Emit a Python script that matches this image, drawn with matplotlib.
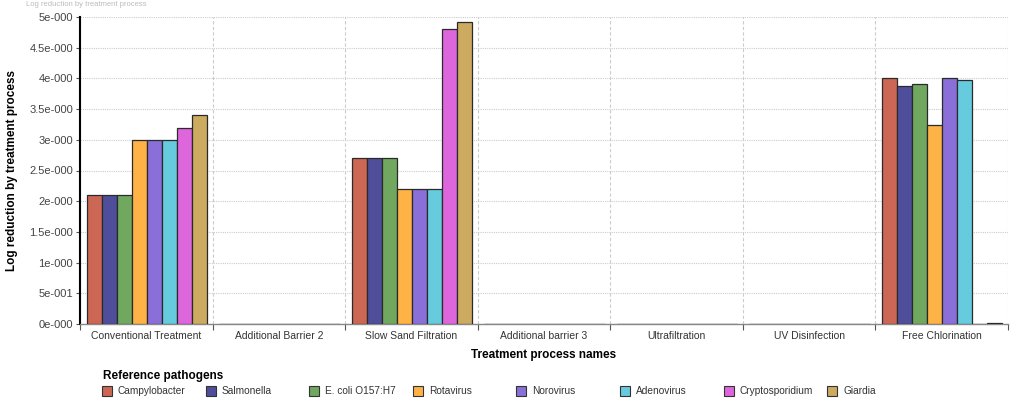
import numpy as np
import matplotlib
matplotlib.use('Agg')
import matplotlib.pyplot as plt
from matplotlib.patches import Rectangle

# data
processes = ['Conventional Treatment', 'Additional Barrier 2', 'Slow Sand Filtration',
             'Additional barrier 3', 'Ultrafiltration', 'UV Disinfection', 'Free Chlorination']
pathogens = ['Campylobacter', 'Salmonella', 'E. coli O157:H7', 'Rotavirus',
             'Norovirus', 'Adenovirus', 'Cryptosporidium', 'Giardia']
colors = ['#CC6655', '#4E4E9A', '#6FA85E', '#FFB347', '#8A6FD8', '#66CCDD', '#DD66DD', '#CCAA60']

campylobacter = [2.1, 0, 2.7, 0, 0, 0, 4.0]
salmonella = [2.1, 0, 2.7, 0, 0, 0, 3.87]
ecoli = [2.1, 0, 2.7, 0, 0, 0, 3.91]
rotavirus = [3.0, 0, 2.2, 0, 0, 0, 3.24]
norovirus = [3.0, 0, 2.2, 0, 0, 0, 4.0]
adenovirus = [3.0, 0, 2.2, 0, 0, 0, 3.98]
cryptosporidium = [3.2, 0, 4.8, 0, 0, 0, 0]
giardia = [3.4, 0, 4.92, 0, 0, 0, 0.02]
series = [campylobacter, salmonella, ecoli, rotavirus, norovirus, adenovirus, cryptosporidium, giardia]

yticks = [0, 0.5, 1, 1.5, 2, 2.5, 3, 3.5, 4, 4.5, 5]
ylabels = ['0e-000', '5e-001', '1e-000', '1.5e-000', '2e-000', '2.5e-000',
           '3e-000', '3.5e-000', '4e-000', '4.5e-000', '5e-000']

plt.rcParams['font.family'] = ['Liberation Sans', 'DejaVu Sans']
fig = plt.figure(figsize=(10.24, 4.04), dpi=100)
ax = fig.add_axes([80/1024, 1-324/404, 928/1024, 307/404])

x = np.arange(len(processes))
bw = 0.1135
start = 0.05
for j, vals in enumerate(series):
    ax.bar(x + start + j*bw, vals, width=bw, align='edge', color=colors[j],
           edgecolor='#2a2a2a', linewidth=0.9, zorder=3)

ax.set_xlim(0, len(processes))
ax.set_ylim(0, 5)
ax.set_yticks(yticks)
ax.set_yticklabels(ylabels, fontsize=8, color='#444444')
ax.set_xticks(np.arange(len(processes)+1))
ax.set_xticklabels([])
ax.set_xticks(x + 0.5, minor=True)
ax.set_xticklabels(processes, minor=True, fontsize=7.5, color='#333333')
ax.tick_params(axis='x', which='minor', length=0, pad=5)
ax.tick_params(axis='x', which='major', length=4, color='#555555')
ax.tick_params(axis='y', length=3, color='#555555', pad=2)

ax.grid(axis='y', linestyle=(0, (1, 1)), color='#cccccc', linewidth=0.8, zorder=0)
ax.grid(axis='x', which='major', linestyle=(0, (3, 2)), color='#cccccc', linewidth=0.8, zorder=0)
for s in ['top', 'right']:
    ax.spines[s].set_visible(False)
ax.spines['left'].set_color('black')
ax.spines['left'].set_linewidth(1.5)
ax.spines['bottom'].set_color('#888888')
ax.spines['bottom'].set_linewidth(1.0)

ax.set_xlabel('Treatment process names', fontsize=8.5, fontweight='bold', labelpad=6)
ax.set_ylabel('Log reduction by treatment process', fontsize=8.5, fontweight='bold', labelpad=8)

# faint title at the very top
fig.text(0.025, 0.998, 'Log reduction by treatment process', fontsize=5.5, color='#bbbbbb', va='top')

# legend laid out by hand
fig.text(103/1024, 1-376/404, 'Reference pathogens', fontsize=8.5, fontweight='bold', va='center')
for i, name in enumerate(pathogens):
    lx = 102 + 103.6*i
    fig.patches.append(Rectangle((lx/1024, 1-396/404), 10/1024, 10/404, transform=fig.transFigure,
                                 facecolor=colors[i], edgecolor='#333333', linewidth=0.8))
    fig.text((lx+16)/1024, 1-391/404, name, fontsize=7.3, color='#333333', va='center')

fig.savefig('out.png', dpi=100)
